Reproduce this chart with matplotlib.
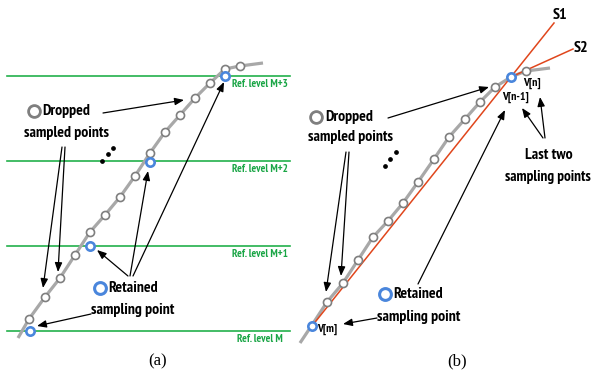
import matplotlib
matplotlib.use("Agg")
import matplotlib.pyplot as plt
from matplotlib import font_manager

# ---------------- data (canvas coordinates, y grows downward) ----------------
# Panel (a): level-crossing sampling
curve_a_x = [18, 29, 45, 60, 75, 90, 105, 120, 135, 150, 165, 180, 195, 210, 225, 240, 263]
curve_a_y = [338, 319, 297, 278, 255, 232, 215, 197, 176, 153, 132, 115, 98, 83, 69, 66, 63]
dropped_a_x = [29, 45, 60, 75, 90, 105, 120, 135, 150, 165, 180, 195, 210, 225, 240]
dropped_a_y = [319, 297, 278, 255, 232, 215, 197, 176, 153, 132, 115, 98, 83, 69, 66]
retained_a_x = [30, 90, 150, 225]
retained_a_y = [331, 246, 162, 76]
ref_levels_y = [331, 246, 161, 76]
ref_labels = ["Ref. level M", "Ref. level M+1", "Ref. level M+2", "Ref. level M+3"]

# Panel (b): slope-based sampling
curve_b_x = [300, 312, 327, 343, 358, 373, 388, 403, 418, 434, 449, 465, 480, 495, 511, 526, 550]
curve_b_y = [343, 325, 302, 283, 260, 237, 221, 203, 182, 159, 137, 119, 102, 87, 77, 71, 68]
dropped_b_x = [327, 343, 358, 373, 388, 403, 418, 434, 449, 465, 480, 495, 526]
dropped_b_y = [302, 283, 260, 237, 221, 203, 182, 159, 137, 119, 102, 87, 71]
retained_b_x = [312, 511]
retained_b_y = [326, 77]
s1_x = [312, 554]
s1_y = [326, 23]
s2_x = [511, 573]
s2_y = [77, 49]

# ---------------- styling ----------------
GREEN = "#22b04b"
GREEN_TXT = "#19a545"
RED = "#e0461c"
BLUE = "#4a86dc"
GRAY_LINE = "#a8a8a8"
GRAY_PT = "#7f7f7f"


def _wt(w):
    if isinstance(w, str):
        return {"bold": 700, "heavy": 800, "black": 900, "semibold": 600,
                "demibold": 600}.get(w.lower(), 400)
    return int(w)


bold_fams = {f.name for f in font_manager.fontManager.ttflist if _wt(f.weight) >= 700}
narrow_pref = ["Arial Narrow", "Liberation Sans Narrow", "Archivo Narrow", "PT Sans Narrow",
               "Roboto Condensed", "Fira Sans Condensed", "IBM Plex Sans Condensed",
               "Asap Condensed", "Encode Sans Condensed", "Pragati Narrow",
               "Sofia Sans Condensed", "Open Sans Condensed"]
NARROW = [n for n in narrow_pref if n in bold_fams][:1]
SANS = NARROW + ["Liberation Sans", "DejaVu Sans"]
SERIF = ["Liberation Serif", "DejaVu Serif"]

W, H = 592, 379
fig = plt.figure(figsize=(W / 100, H / 100), dpi=100)
ax = fig.add_axes([0, 0, 1, 1])
ax.set_xlim(0, W)
ax.set_ylim(H, 0)
ax.axis("off")


def txt(x, y, s, size=11, color="black", ha="left", va="center", weight="bold", family=None):
    ax.text(x, y, s, fontsize=size, color=color, ha=ha, va=va, weight=weight,
            family=family or SANS)


def arrow(x0, y0, x1, y1):
    ax.annotate("", xy=(x1, y1), xytext=(x0, y0),
                arrowprops=dict(arrowstyle="-|>,head_length=0.55,head_width=0.22",
                                color="black", lw=0.9, shrinkA=0, shrinkB=0))


# ---------------- panel (a) ----------------
for y, lab in zip(ref_levels_y, ref_labels):
    ax.plot([7, 290], [y, y], color=GREEN, lw=1.2, zorder=1)
    txt(288 if lab != "Ref. level M" else 283, y + 8, lab, size=8, color=GREEN_TXT, ha="right")

ax.plot(curve_a_x, curve_a_y, color=GRAY_LINE, lw=2.3, zorder=2, solid_capstyle="butt")
ax.plot(dropped_a_x, dropped_a_y, "o", ms=5.8, mfc="white", mec=GRAY_PT, mew=1.2, zorder=3)
ax.plot(retained_a_x, retained_a_y, "o", ms=6, mfc="white", mec=BLUE, mew=1.9, zorder=4)

# annotation keys and arrows
ax.plot([34], [111], "o", ms=8.5, mfc="white", mec=GRAY_PT, mew=2, zorder=4)
txt(42, 111, "Dropped", size=11.3)
txt(67, 133, "sampled points", size=11.3, ha="center")
arrow(103, 113, 184, 100)
arrow(62, 147, 43, 288)
arrow(65, 147, 58, 272)
ax.plot([102, 108, 113], [161, 154, 148], "o", ms=2.4, color="black")

ax.plot([100], [288], "o", ms=8.5, mfc="white", mec=BLUE, mew=2.2, zorder=4)
txt(108, 288, "Retained", size=11.3)
txt(133, 310, "sampling point", size=11.3, ha="center")
arrow(128, 276, 97, 250)
arrow(130, 276, 148, 171)
arrow(133, 276, 224, 82)
arrow(91, 314, 37, 326)

txt(148, 361, "(a)", size=12, weight="normal", family=SERIF)

# ---------------- panel (b) ----------------
ax.plot(curve_b_x, curve_b_y, color=GRAY_LINE, lw=2.3, zorder=2, solid_capstyle="butt")
ax.plot(s1_x, s1_y, color=RED, lw=1.1, zorder=3)
ax.plot(s2_x, s2_y, color=RED, lw=1.1, zorder=3)
ax.plot(dropped_b_x, dropped_b_y, "o", ms=5.8, mfc="white", mec=GRAY_PT, mew=1.2, zorder=4)
ax.plot(retained_b_x, retained_b_y, "o", ms=6, mfc="white", mec=BLUE, mew=1.9, zorder=5)

txt(560, 15, "S1", size=11.5, ha="center")
txt(581, 48, "S2", size=11.5, ha="center")
txt(532, 83, "V[n]", size=8.5, ha="center")
txt(515, 97, "V[n-1]", size=8.5, ha="center")
txt(317, 329, "V[m]", size=8.5, ha="left")

ax.plot([316], [117], "o", ms=8.5, mfc="white", mec=GRAY_PT, mew=2, zorder=4)
txt(325, 117, "Dropped", size=11.3)
txt(350, 137, "sampled points", size=11.3, ha="center")
arrow(388, 118, 489, 87)
arrow(346, 152, 326, 292)
arrow(349, 152, 341, 276)
ax.plot([385, 390, 396], [166, 159, 152], "o", ms=2.4, color="black")

txt(549, 155, "Last two", size=11.3, ha="center")
txt(548, 177, "sampling points", size=11, ha="center")
arrow(543, 138, 522, 108)
arrow(545, 138, 540, 97)

ax.plot([385], [294], "o", ms=8.5, mfc="white", mec=BLUE, mew=2.2, zorder=4)
txt(393, 294, "Retained", size=11.3)
txt(419, 317, "sampling point", size=11.3, ha="center")
arrow(418, 284, 505, 110)
arrow(377, 318, 343, 324)

txt(447, 361, "(b)", size=12, weight="normal", family=SERIF)

fig.savefig("out.png", dpi=100)
